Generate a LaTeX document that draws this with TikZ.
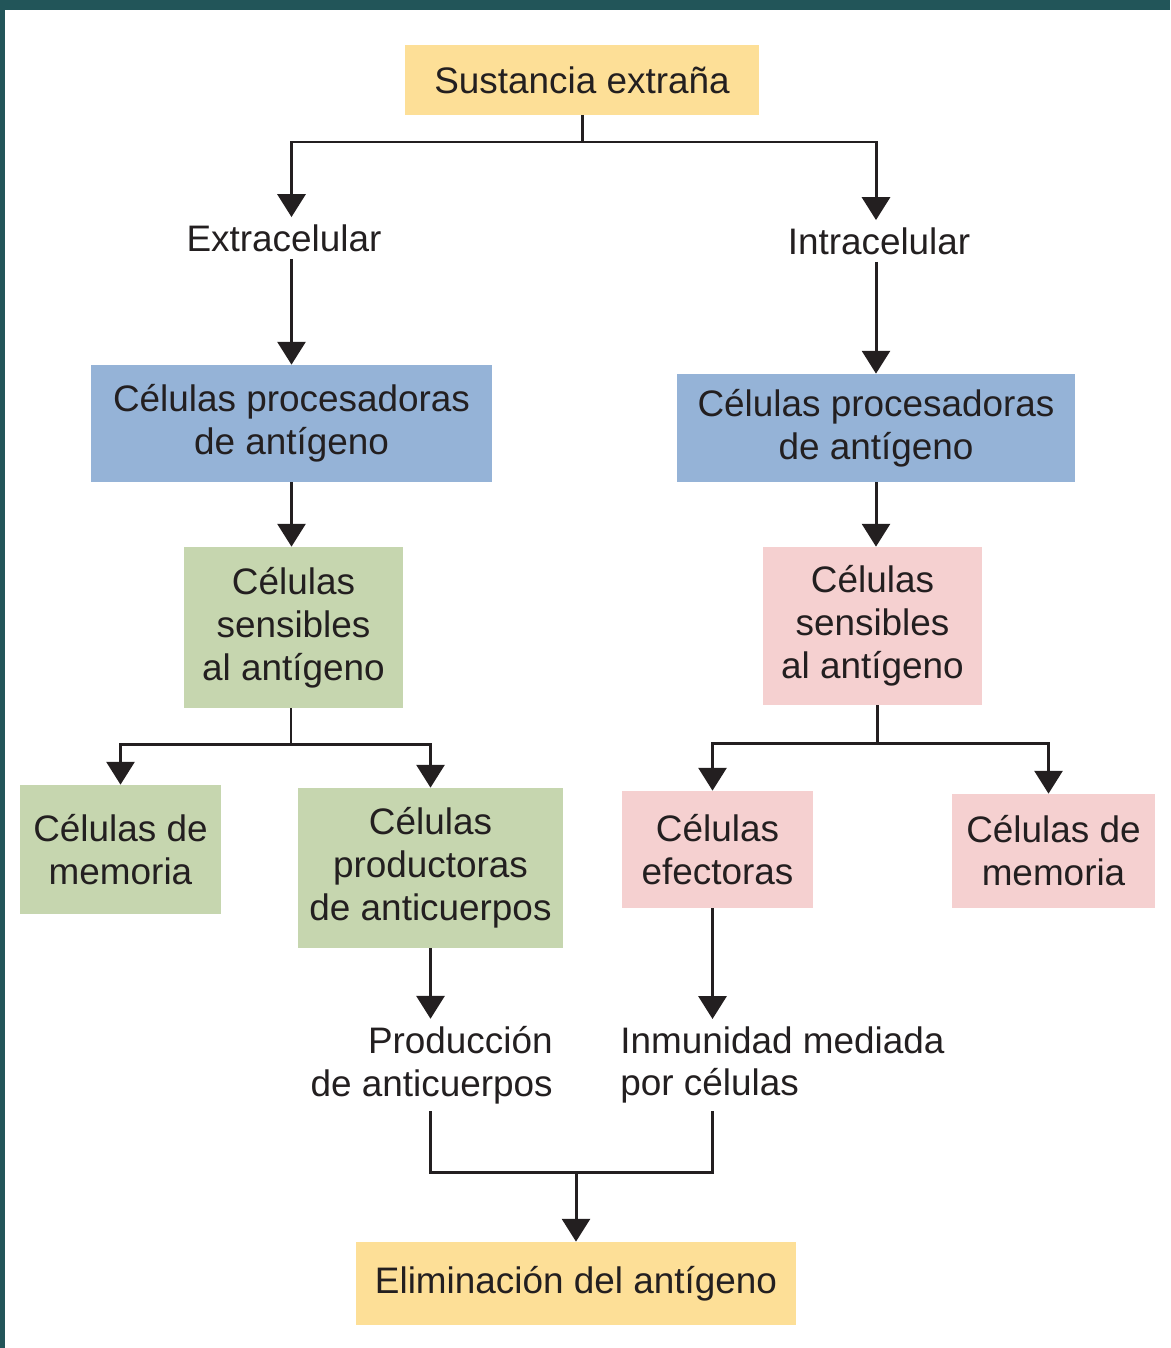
\documentclass[tikz,border=0pt]{standalone}
\usepackage{fontspec}
\setmainfont{Liberation Sans}
\usetikzlibrary{arrows.meta}
\definecolor{borde}{HTML}{225559}
\definecolor{tinta}{HTML}{231F20}
\definecolor{amarillo}{HTML}{FDDF97}
\definecolor{azul}{HTML}{95B3D7}
\definecolor{verde}{HTML}{C6D6AF}
\definecolor{rosa}{HTML}{F5D0D0}

\begin{document}
\begin{tikzpicture}[x=0.02cm,y=-0.02cm,
    caja/.style={inner sep=0pt,align=center,text=tinta,font=\fontsize{21}{24.4}\selectfont},
    etiqueta/.style={inner sep=4pt,text=tinta,font=\fontsize{21}{24.4}\selectfont},
    linea/.style={line width=1.7pt,draw=tinta},
    flecha/.style={linea,-{Triangle[width=15.9pt,length=13pt]}}]
               \useasboundingbox (0,0) rectangle (1170,1348);
               \fill[borde] (0,0) rectangle (1170,10);
               \fill[borde] (0,0) rectangle (5,1348);
               \node[caja,fill=amarillo,minimum width=7.1cm,minimum height=1.4cm] (sust) at (582,80) {Sustancia extraña};
               \node[etiqueta] (extra) at (284,238) {Extracelular};
               \node[etiqueta] (intra) at (879,241) {Intracelular};
               \node[caja,fill=azul,minimum width=8.02cm,minimum height=2.34cm] (apcL) at (291.5,423.5) {Células procesadoras\\de antígeno};
               \node[caja,fill=azul,minimum width=7.96cm,minimum height=2.16cm] (apcR) at (876,428) {Células procesadoras\\de antígeno};
               \node[caja,fill=verde,minimum width=4.38cm,minimum height=3.22cm] (senL) at (293.5,627.5) {Células\\sensibles\\al antígeno};
               \node[caja,fill=rosa,minimum width=4.38cm,minimum height=3.16cm] (senR) at (872.5,626) {Células\\sensibles\\al antígeno};
               \node[caja,fill=verde,minimum width=4.02cm,minimum height=2.58cm] (memL) at (120.5,849.5) {Células de\\memoria};
               \node[caja,fill=verde,minimum width=5.3cm,minimum height=3.2cm] (prod) at (430.5,868) {Células\\productoras\\de anticuerpos};
               \node[caja,fill=rosa,minimum width=3.82cm,minimum height=2.34cm] (efec) at (717.5,849.5) {Células\\efectoras};
               \node[caja,fill=rosa,minimum width=4.06cm,minimum height=2.28cm] (memR) at (1053.5,851) {Células de\\memoria};
               \node[etiqueta,align=right,anchor=east] (prodtxt) at (560,1065) {Producción\\de anticuerpos};
               \node[etiqueta,align=left,anchor=west] (inmtxt) at (613,1065) {Inmunidad mediada\\por células};
               \node[caja,fill=amarillo,minimum width=8.8cm,minimum height=1.66cm] (elim) at (576,1283.5) {Eliminación del antígeno};
               \coordinate (j1) at (582,142);
               \coordinate (j2) at (291,744);
               \coordinate (j3) at (877,743);
               \coordinate (j4) at (576,1172);
               \draw[linea] (sust.south) -- (j1);
               \draw[flecha] (j1) -| (apcL.north |- extra.north);
               \draw[flecha] (j1) -| (apcR.north |- intra.north);
               \draw[flecha] (apcL.north |- extra.south) -- (apcL.north);
               \draw[flecha] (apcR.north |- intra.south) -- (apcR.north);
               \draw[flecha] (apcL.south) -- (apcL.south |- senL.north);
               \draw[flecha] (apcR.south) -- (senR.north -| apcR.south);
               \draw[linea] (senL.south -| j2) -- (j2);
               \draw[flecha] (j2) -| (memL.north);
               \draw[flecha] (j2) -| (prod.north);
               \draw[linea] (senR.south -| j3) -- (j3);
               \draw[flecha] (j3) -| ([xshift=-0.1cm]efec.north);
               \draw[flecha] (j3) -| ([xshift=-0.1cm]memR.north);
               \draw[flecha] (prod.south) -- (prod.south |- prodtxt.north);
               \draw[flecha] ([xshift=-0.1cm]efec.south) -- ([xshift=-0.1cm]efec.south |- inmtxt.north);
               \draw[linea] (prodtxt.south -| prod.south) |- (j4) -| ([xshift=-0.1cm]inmtxt.south -| efec.south);
               \draw[flecha] (j4) -- (elim.north);
            \end{tikzpicture}
\end{document}
